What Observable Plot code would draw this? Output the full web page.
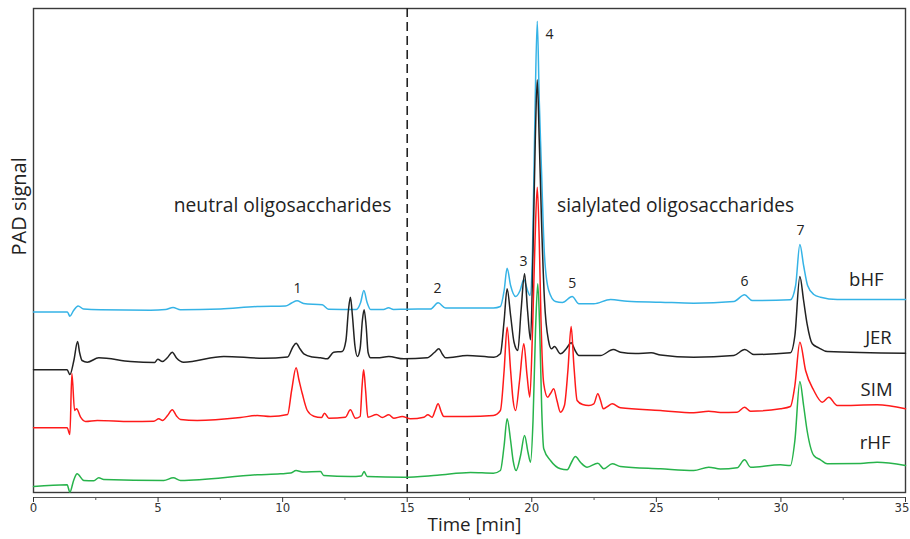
<!DOCTYPE html>
<html>
<head>
<meta charset="utf-8">
<script src="https://cdn.jsdelivr.net/npm/d3@7"></script>
<script src="https://cdn.jsdelivr.net/npm/@observablehq/plot@0.6"></script>
<style>
  html, body { margin: 0; padding: 0; background: #fff; }
  #chart { width: 910px; height: 539px; }
</style>
</head>
<body>
<div id="chart"></div>
<script>
// ---- Data (retention time in min, PAD signal in arbitrary units incl. trace offset) ----
const bhfTime = [0,1.36,1.46,1.61,1.79,2.01,2.69,4.70,5.30,5.60,5.90,7.51,8.98,10.11,10.36,10.58,10.84,11.59,11.84,12.96,13.13,13.26,13.39,13.53,14.05,14.25,14.45,14.93,15.93,16.24,16.54,17.14,18.46,18.74,18.89,19.01,19.15,19.35,19.53,19.68,19.83,19.93,20.03,20.13,20.22,20.30,20.39,20.51,20.68,20.95,21.23,21.62,21.89,22.49,23.16,23.83,25.17,26.50,28.11,28.54,28.85,30.38,30.59,30.76,30.91,31.07,31.32,31.59,32.26,35];
const bhfSignal = [180.5,180.5,176.3,182,186.5,183.5,182.7,182.3,183,185,182.7,183.5,186,186.5,189.5,191.7,189,187.7,183.3,183,190,202,190,183,183,184.7,183,183.3,183.5,189.7,184.5,184.5,184.5,186,202,224.3,207,196,202,213,202,197,242,382,471.3,392,322,237,202,191,190,196,188.7,188.7,193,191.3,190.3,189.3,191,197.7,192,192.7,207,248,227,207,198,195.3,193,193];

const jerTime = [0,1.35,1.46,1.62,1.77,1.85,1.95,2.16,2.62,3.89,4.86,4.99,5.17,5.38,5.57,5.74,6.03,7.64,9.24,10.20,10.40,10.54,10.70,10.85,11.20,11.52,11.79,12.05,12.39,12.54,12.64,12.72,12.80,12.90,13.00,13.11,13.20,13.27,13.35,13.43,13.53,13.80,14.26,14.86,15.80,16.09,16.27,16.42,16.54,17.41,18.48,18.74,18.89,19.01,19.15,19.29,19.44,19.57,19.71,19.83,19.95,20.05,20.14,20.22,20.30,20.39,20.51,20.67,20.79,20.91,21.15,21.39,21.58,21.74,21.89,22.76,23.27,23.56,24.16,24.79,25.17,26.50,28.11,28.55,28.91,30.38,30.56,30.76,30.91,31.05,31.26,31.52,31.86,35];
const jerSignal = [122.7,122.7,118,132,151,140,132,130.3,134.7,131,130,133.3,131,135,140.3,134.5,130.3,136,134.3,135.5,145,149.3,143.5,138.7,135.5,134.7,133.7,140.3,141,152,182,195.3,177,147,136,144,172,182.7,167,140,134.7,134.7,136,133.7,134.7,140,143.7,138,134.7,137,135.3,138.7,172,203.7,177,150,142,182,218.7,182,152.7,242,352,412.7,352,272,192,152,143.7,146,138.7,144,149.7,142,137,137,143,140.3,139,139.7,137.5,135.3,137,143,138,139.7,157,216,192,168.7,148.7,144.7,141,139.3];

const simTime = [0,1.35,1.46,1.54,1.65,1.73,1.89,2.09,2.56,3.89,4.83,5.03,5.18,5.38,5.57,5.74,5.90,6.57,8.31,8.98,9.51,10.20,10.36,10.54,10.66,10.79,10.99,11.25,11.56,11.68,11.85,12.52,12.72,12.92,13.11,13.19,13.25,13.33,13.42,13.77,14.00,14.26,14.46,14.80,15.13,15.67,15.83,16.00,16.12,16.24,16.36,16.47,17.41,18.46,18.74,18.89,19.01,19.15,19.25,19.35,19.51,19.68,19.81,19.92,20.03,20.13,20.22,20.30,20.37,20.48,20.64,20.75,20.88,21.01,21.15,21.31,21.45,21.58,21.69,21.82,22.04,22.29,22.49,22.65,22.76,22.87,23.04,23.23,23.56,25.17,26.50,27.10,27.57,28.24,28.54,28.78,29.98,30.38,30.56,30.76,30.99,31.32,31.66,31.92,32.26,33.86,35];
const simSignal = [64.7,64.7,58,119,82,83.7,75.3,71,72,71,71.3,73.7,72,77,82.7,76.5,73,72,75,77,76,78,102,124.7,112,98.7,82,76.3,75,79.3,74.3,75.3,82.7,74.3,76,107,122.7,102,75.3,78,75,77.7,74.3,76,73.7,75.3,77.7,75.3,82,88.7,81,76,76,77,82,122,165.3,122,92,82,112,148.7,117,95.3,162,252,305.3,252,172,108.7,95.3,99,103.7,92,80.3,87,122,166,127,92,88,87,88.7,98.7,92,83.7,86,88.7,84.7,82,79.7,81.3,80,80.3,85.3,81.3,83.7,86,107,150.3,122,102,90.3,95.3,87,87.7,83.7];

const rhfTime = [0,1.35,1.46,1.61,1.75,2.02,2.42,2.62,2.82,5.23,5.61,5.90,8.98,9.91,10.32,10.54,10.80,11.52,11.65,12.72,13.16,13.27,13.39,14.86,16.20,17.54,18.46,18.74,18.89,19.01,19.15,19.25,19.37,19.55,19.71,19.85,19.95,20.05,20.15,20.24,20.32,20.40,20.48,20.75,21.15,21.42,21.59,21.75,21.96,22.22,22.65,22.89,23.23,23.56,25.17,26.50,27.10,27.57,28.24,28.54,28.78,29.98,30.38,30.56,30.76,30.91,31.05,31.32,31.59,31.86,33.19,33.86,35];
const rhfSignal = [6,7.7,0.3,12,18.7,12,11.7,14.7,13,12,14.7,12,17.7,18.7,19.5,22,20.5,21,17,16,16.5,21,16,15.3,17.3,20,19.3,22,47,73.7,52,32,22,37,57,40,30.3,72,162,208.7,162,82,43.7,32,23.7,22.7,30,36,30,25.3,29.3,23.7,28.7,26,23.7,22,25.3,23.5,24.7,32.7,25.3,27.7,27,52,111,87,62,37,32.7,28.7,29,30.3,27];

const traceNames  = ["bHF", "JER", "SIM", "rHF"];
const traceColors = ["#35b3e6", "#222222", "#ff1a1a", "#27b34b"];

const peakNames = ["1", "2", "3", "4", "5", "6", "7"];
const peakTimes = [10.6, 16.22, 19.67, 20.71, 21.62, 28.54, 30.79];

const regionNames = ["neutral oligosaccharides", "sialylated oligosaccharides"];
const regionBoundary = 15;

const majorTicks = [0, 5, 10, 15, 20, 25, 30, 35];
const minorTicks = [2.5, 7.5, 12.5, 17.5, 22.5, 27.5, 32.5];

// ---- Build tables ----
const toRows = (name, t, v) => t.map((x, i) => ({trace: name, time: x, signal: v[i]}));
const traces = [
  toRows("bHF", bhfTime, bhfSignal),
  toRows("JER", jerTime, jerSignal),
  toRows("SIM", simTime, simSignal),
  toRows("rHF", rhfTime, rhfSignal)
];

// annotation placement (layout, not data)
const peakLabelY = [204, 204, 231, 458, 209, 211, 262];
const peakLabels = peakNames.map((n, i) => ({name: n, time: peakTimes[i], y: peakLabelY[i]}));
const traceLabelX = [34.12, 34.45, 34.48, 34.4];
const traceLabelY = [212, 154, 102, 49];
const traceLabels = traceNames.map((n, i) => ({name: n, x: traceLabelX[i], y: traceLabelY[i]}));
const regionLabels = [
  {name: regionNames[0], x: 10.0, y: 287},
  {name: regionNames[1], x: 25.77, y: 287}
];

const font = "'Open Sans', 'Noto Sans', sans-serif";
const tickFont = "'Liberation Sans Narrow', 'DejaVu Sans Condensed', 'Liberation Sans', sans-serif";
const innerTicks = majorTicks.slice(0, -1);
const lastTick = majorTicks.slice(-1);

const chart = Plot.plot({
  width: 910,
  height: 539,
  marginLeft: 33,
  marginRight: 5,
  marginTop: 8,
  marginBottom: 47,
  style: {background: "#fff", fontFamily: font},
  x: {domain: [0, 35]},
  y: {domain: [0, 484], axis: null},
  marks: [
    Plot.frame({stroke: "#3a3a3a", strokeWidth: 1.4}),
    Plot.ruleX([regionBoundary], {stroke: "#222", strokeWidth: 1.6, strokeDasharray: "9,5"}),
    ...traces.map((rows, i) => Plot.line(rows, {
      x: "time", y: "signal", stroke: traceColors[i], strokeWidth: 1.5, curve: "monotone-x"
    })),
    // x axis: baseline, major and minor ticks
    Plot.ruleY([0], {dy: 5, stroke: "#555", strokeWidth: 1.2}),
    Plot.axisX({ticks: majorTicks, tickSize: 5, dy: 5, text: null, label: null, color: "#333"}),
    Plot.axisX({ticks: minorTicks, tickSize: 3, dy: 5, text: null, label: null, color: "#555"}),
    Plot.text(innerTicks, {x: d => d, text: d => String(d), frameAnchor: "bottom", dy: 19,
      fontSize: 13, fontFamily: tickFont, fill: "#333"}),
    Plot.text(lastTick, {x: d => d, text: d => String(d), frameAnchor: "bottom", dy: 19, dx: 4,
      textAnchor: "end", fontSize: 13, fontFamily: tickFont, fill: "#333"}),
    Plot.text(["Time [min]"], {frameAnchor: "bottom", dy: 38, fontSize: 18.8, fontFamily: font, fill: "#222", dx: 5}),
    Plot.text(["PAD signal"], {frameAnchor: "left", dx: -14, dy: 5, rotate: -90, fontSize: 20, fontFamily: font, fill: "#222"}),
    Plot.text(regionLabels, {x: "x", y: "y", text: "name", fontSize: 19.2, fontFamily: font, fill: "#222"}),
    Plot.text(peakLabels, {x: "time", y: "y", text: "name", fontSize: 14, fontFamily: font, fill: "#222"}),
    Plot.text(traceLabels, {x: "x", y: "y", text: "name", textAnchor: "end", fontSize: 18.5, fontFamily: font, fill: "#222"})
  ]
});
document.getElementById("chart").appendChild(chart);
</script>
</body>
</html>
